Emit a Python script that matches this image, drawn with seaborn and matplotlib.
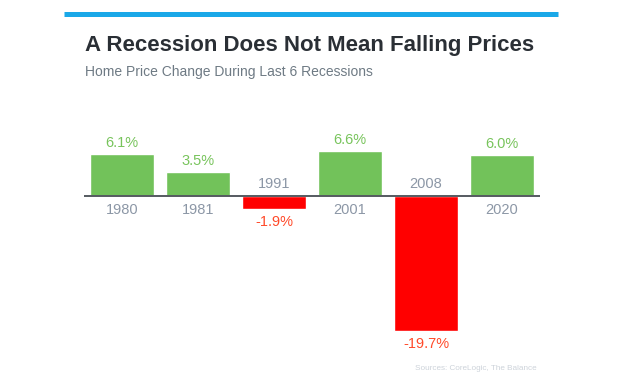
import matplotlib
matplotlib.use("Agg")
import matplotlib.pyplot as plt
import seaborn as sns
import pandas as pd

years = ["1980", "1981", "1991", "2001", "2008", "2020"]
changes = [6.1, 3.5, -1.9, 6.6, -19.7, 6.0]
value_labels = ["6.1%", "3.5%", "-1.9%", "6.6%", "-19.7%", "6.0%"]

title = "A Recession Does Not Mean Falling Prices"
subtitle = "Home Price Change During Last 6 Recessions"
source = "Sources: CoreLogic, The Balance"

GREEN = "#72C25A"
RED = "#FF0000"
GREEN_TXT = "#78C45C"
RED_TXT = "#FF4A2A"
GREY_TXT = "#8C97A6"

sns.set_style("white")
plt.rcParams["font.family"] = ["Liberation Sans", "DejaVu Sans"]

df = pd.DataFrame({"year": years, "change": changes})
df["sign"] = ["pos" if v >= 0 else "neg" for v in changes]

fig = plt.figure(figsize=(6.24, 3.77), dpi=100)
ax = fig.add_axes([84 / 624, 1 - 347 / 377, 456 / 624, (347 - 127.5) / 377])

sns.barplot(data=df, x="year", y="change", hue="sign",
            palette={"pos": GREEN, "neg": RED}, dodge=False,
            width=0.83, legend=False, ax=ax, saturation=1)

ax.set_xlim(-0.5, 5.5)
ax.set_ylim(-22.0, 10.0)
ax.axhline(0, color="#555A60", lw=1.4, zorder=5)
for s in ax.spines.values():
    s.set_visible(False)
ax.set_xticks([])
ax.set_yticks([])
ax.set_xlabel("")
ax.set_ylabel("")

for i, (y, v, lab) in enumerate(zip(years, changes, value_labels)):
    if v >= 0:
        ax.annotate(lab, (i, v), xytext=(0, 3), textcoords="offset points",
                    ha="center", va="bottom", fontsize=10.5, color=GREEN_TXT)
        ax.annotate(y, (i, 0), xytext=(0, -5), textcoords="offset points",
                    ha="center", va="top", fontsize=10.5, color=GREY_TXT)
    else:
        ax.annotate(lab, (i, v), xytext=(0, -4), textcoords="offset points",
                    ha="center", va="top", fontsize=10.5, color=RED_TXT)
        ax.annotate(y, (i, 0), xytext=(0, 4), textcoords="offset points",
                    ha="center", va="bottom", fontsize=10.5, color=GREY_TXT)

# top blue rule
fig.add_artist(plt.Line2D([64 / 624, 558 / 624], [1 - 13.5 / 377] * 2,
                          color="#1AA8E8", lw=3.6, solid_capstyle="butt"))

fig.text(85 / 624, 1 - 46 / 377, title, fontsize=16, fontweight="bold",
         color="#2A2F35", ha="left", va="center")
fig.text(85 / 624, 1 - 72 / 377, subtitle, fontsize=10, color="#6E7A84",
         ha="left", va="center")
fig.text(537 / 624, 1 - 369 / 377, source, fontsize=5.9, color="#CDD3DA",
         ha="right", va="center")

fig.savefig("out.png", dpi=100)
